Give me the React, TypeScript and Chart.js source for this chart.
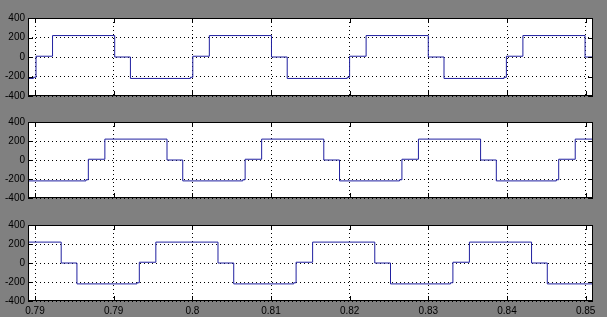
import React, { useEffect, useRef } from "react";
import { Chart, registerables } from "chart.js";

Chart.register(...registerables);

const X_MIN = 0.77911;
const X_MAX = 0.85093;
const xTickValues = [0.78, 0.79, 0.8, 0.81, 0.82, 0.83, 0.84, 0.85];
const xTickLabels = ["0.79", "0.79", "0.8", "0.81", "0.82", "0.83", "0.84", "0.85"];
const yTickValues = [-400, -200, 0, 200, 400];

const timesA = [0.77911, 0.7798, 0.78013, 0.78223, 0.79013, 0.79213, 0.79976, 0.80006, 0.80216, 0.81006, 0.81206, 0.81969, 0.81999, 0.82209, 0.82999, 0.83199, 0.83962, 0.83992, 0.84202, 0.84992, 0.85093];
const valuesA = [-220, -208, 8, 220, 0, -220, -208, 8, 220, 0, -220, -208, 8, 220, 0, -220, -208, 8, 220, 0, 0];

const timesB = [0.77911, 0.78648, 0.78678, 0.78888, 0.79678, 0.79878, 0.80641, 0.80671, 0.80881, 0.81671, 0.81871, 0.82634, 0.82664, 0.82874, 0.83664, 0.83864, 0.84627, 0.84657, 0.84867, 0.85093];
const valuesB = [-220, -208, 8, 220, 0, -220, -208, 8, 220, 0, -220, -208, 8, 220, 0, -220, -208, 8, 220, 220];

const timesC = [0.77911, 0.78333, 0.78533, 0.79296, 0.79326, 0.79536, 0.80326, 0.80526, 0.81289, 0.81319, 0.81529, 0.82319, 0.82519, 0.83282, 0.83312, 0.83522, 0.84312, 0.84512, 0.85093];
const valuesC = [220, 0, -220, -208, 8, 220, 0, -220, -208, 8, 220, 0, -220, -208, 8, 220, 0, -220, -220];

const FONT = { family: "'Liberation Sans', Arial, sans-serif", size: 10 };

const framePlugin = {
  id: "frame",
  beforeDraw(chart: any) {
    const { ctx, chartArea } = chart;
    const { left, top, right, bottom } = chartArea;
    ctx.save();
    ctx.fillStyle = "#ffffff";
    ctx.fillRect(left, top, right - left, bottom - top);
    ctx.restore();
  },
  afterDraw(chart: any) {
    const { ctx, chartArea, scales } = chart;
    const { left, top, right, bottom } = chartArea;
    const x = scales.x;
    const y = scales.y;
    ctx.save();
    ctx.strokeStyle = "#000000";
    ctx.lineWidth = 1;
    ctx.setLineDash([]);
    ctx.strokeRect(left + 0.5, top + 0.5, right - left - 1, bottom - top - 1);
    ctx.beginPath();
    for (const v of xTickValues) {
      const px = Math.round(x.getPixelForValue(v)) + 0.5;
      ctx.moveTo(px, top);
      ctx.lineTo(px, top + 5);
      ctx.moveTo(px, bottom);
      ctx.lineTo(px, bottom - 5);
    }
    for (const v of yTickValues) {
      const py = Math.round(y.getPixelForValue(v)) + 0.5;
      ctx.moveTo(left, py);
      ctx.lineTo(left + 5, py);
      ctx.moveTo(right, py);
      ctx.lineTo(right - 5, py);
    }
    ctx.stroke();
    ctx.restore();
  },
};

type PanelProps = { times: number[]; values: number[]; top: number; height: number; showX: boolean };

function Panel({ times, values, top, height, showX }: PanelProps) {
  const ref = useRef<HTMLCanvasElement | null>(null);
  useEffect(() => {
    if (!ref.current) return;
    const chart = new Chart(ref.current, {
      type: "line",
      data: {
        datasets: [
          {
            data: times.map((t, i) => ({ x: t, y: values[i] })),
            borderColor: "#2020a0",
            borderWidth: 1,
            pointRadius: 0,
            stepped: true,
            fill: false,
          },
        ],
      },
      options: {
        responsive: false,
        animation: false,
        devicePixelRatio: 1,
        layout: { padding: { left: 0, right: 14, top: 10, bottom: showX ? 0 : 10 } },
        plugins: { legend: { display: false }, tooltip: { enabled: false } },
        scales: {
          x: {
            type: "linear",
            min: X_MIN,
            max: X_MAX,
            afterBuildTicks: (s: any) => {
              s.ticks = xTickValues.map((v) => ({ value: v }));
            },
            afterFit: (s: any) => {
              s.height = showX ? 16 : 0;
            },
            ticks: {
              display: showX,
              autoSkip: false,
              maxRotation: 0,
              padding: 4,
              color: "#000000",
              font: FONT,
              callback: (_v: any, i: number) => xTickLabels[i],
            },
            grid: { color: "#000000", drawTicks: false, lineWidth: 1 },
            border: { display: false, dash: [1, 3] },
          },
          y: {
            min: -400,
            max: 400,
            afterBuildTicks: (s: any) => {
              s.ticks = yTickValues.map((v) => ({ value: v }));
            },
            afterFit: (s: any) => {
              s.width = 28;
            },
            ticks: {
              padding: 3,
              color: "#000000",
              font: FONT,
              callback: (v: any) => String(v),
            },
            grid: { color: "#000000", drawTicks: false, lineWidth: 1 },
            border: { display: false, dash: [1, 3] },
          },
        },
      } as any,
      plugins: [framePlugin],
    });
    return () => chart.destroy();
  }, [times, values, showX]);
  return (
    <canvas
      ref={ref}
      width={607}
      height={height}
      style={{ position: "absolute", left: 0, top, width: 607, height }}
    />
  );
}

export default function App() {
  return (
    <div
      style={{
        position: "fixed",
        left: 0,
        top: 0,
        width: 607,
        height: 317,
        background: "#808080",
        overflow: "hidden",
      }}
    >
      <Panel times={timesA} values={valuesA} top={8} height={98} showX={false} />
      <Panel times={timesB} values={valuesB} top={112} height={96} showX={false} />
      <Panel times={timesC} values={valuesC} top={215} height={102} showX={true} />
    </div>
  );
}
